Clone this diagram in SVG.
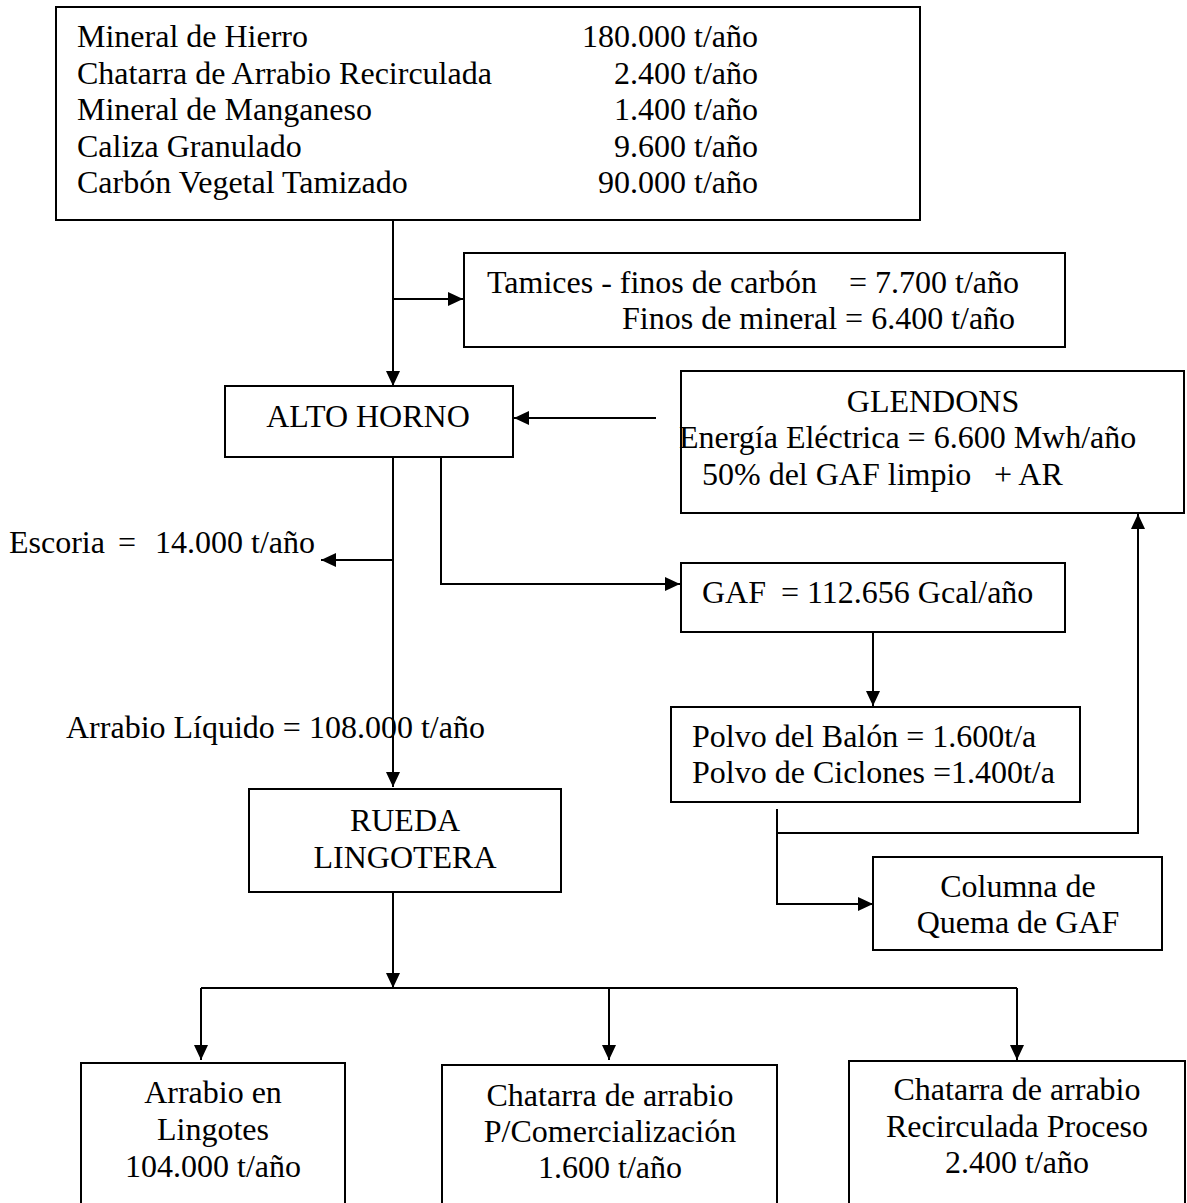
<svg xmlns="http://www.w3.org/2000/svg" width="1187" height="1203" viewBox="0 0 1187 1203">
<style>
  .box { fill: #fff; stroke: #000; stroke-width: 2; }
  .t { font-family: "Liberation Serif", "Times New Roman", serif; font-size: 32px; fill: #000; }
  .c { text-anchor: middle; }
  .e { text-anchor: end; }
  .ln { fill: none; stroke: #000; stroke-width: 2; }
</style>
<defs>
  <marker id="ah" markerUnits="userSpaceOnUse" markerWidth="16" markerHeight="14" refX="15" refY="7" orient="auto">
    <path d="M0,0 L15,7 L0,14 z" fill="#000"/>
  </marker>
</defs>
<rect width="1187" height="1203" fill="#fff"/>

<g id="connectors">
  <path class="ln" d="M393,220 V386" marker-end="url(#ah)"/>
  <path class="ln" d="M393,299 H463" marker-end="url(#ah)"/>
  <path class="ln" d="M656,418 H514" marker-end="url(#ah)"/>
  <path class="ln" d="M441,452 V584 H680" marker-end="url(#ah)"/>
  <path class="ln" d="M393,457 V787" marker-end="url(#ah)"/>
  <path class="ln" d="M393,560 H321" marker-end="url(#ah)"/>
  <path class="ln" d="M393,892 V988" marker-end="url(#ah)"/>
  <path class="ln" d="M201,988 H1017"/>
  <path class="ln" d="M201,988 V1060" marker-end="url(#ah)"/>
  <path class="ln" d="M609,988 V1060" marker-end="url(#ah)"/>
  <path class="ln" d="M1017,988 V1060" marker-end="url(#ah)"/>
  <path class="ln" d="M873,632 V706" marker-end="url(#ah)"/>
  <path class="ln" d="M777,809 V904 H873" marker-end="url(#ah)"/>
  <path class="ln" d="M777,833 H1138 V514" marker-end="url(#ah)"/>
</g>

<g id="inputs">
  <rect class="box" x="56" y="7" width="864" height="213"/>
  <text class="t" x="77" y="47">Mineral de Hierro</text>
  <text class="t" x="77" y="83.5">Chatarra de Arrabio Recirculada</text>
  <text class="t" x="77" y="120">Mineral de Manganeso</text>
  <text class="t" x="77" y="156.5">Caliza Granulado</text>
  <text class="t" x="77" y="193">Carbón Vegetal Tamizado</text>
  <text class="t e" x="758" y="47">180.000 t/año</text>
  <text class="t e" x="758" y="83.5">2.400 t/año</text>
  <text class="t e" x="758" y="120">1.400 t/año</text>
  <text class="t e" x="758" y="156.5">9.600 t/año</text>
  <text class="t e" x="758" y="193">90.000 t/año</text>
</g>

<g id="tamices">
  <rect class="box" x="464" y="253" width="601" height="94"/>
  <text class="t" y="293"><tspan x="487">Tamices - finos de carbón</tspan><tspan x="849">= 7.700 t/año</tspan></text>
  <text class="t" x="622" y="329">Finos de mineral = 6.400 t/año</text>
</g>

<g id="alto-horno">
  <rect class="box" x="225" y="386" width="288" height="71"/>
  <text class="t c" x="368" y="427">ALTO HORNO</text>
</g>

<g id="glendons">
  <rect class="box" x="681" y="371" width="503" height="142"/>
  <text class="t c" x="933" y="412">GLENDONS</text>
  <text class="t" x="679" y="448">Energía Eléctrica = 6.600 Mwh/año</text>
  <text class="t" x="702" y="485">50% del GAF limpio<tspan x="994">+ AR</tspan></text>
</g>

<g id="escoria">
  <text class="t" x="9" y="553">Escoria<tspan x="118">=</tspan><tspan x="155">14.000 t/año</tspan></text>
</g>

<g id="arrabio-liquido">
  <text class="t" x="66" y="738">Arrabio Líquido = 108.000 t/año</text>
</g>

<g id="gaf">
  <rect class="box" x="681" y="563" width="384" height="69"/>
  <text class="t" x="702" y="603">GAF<tspan x="781">= 112.656 Gcal/año</tspan></text>
</g>

<g id="polvo">
  <rect class="box" x="671" y="707" width="409" height="95"/>
  <text class="t" x="692" y="747">Polvo del Balón = 1.600t/a</text>
  <text class="t" x="692" y="783">Polvo de Ciclones =1.400t/a</text>
</g>

<g id="columna">
  <rect class="box" x="873" y="857" width="289" height="93"/>
  <text class="t c" x="1018" y="897">Columna de</text>
  <text class="t c" x="1018" y="933">Quema de GAF</text>
</g>

<g id="rueda">
  <rect class="box" x="249" y="789" width="312" height="103"/>
  <text class="t c" x="405" y="831">RUEDA</text>
  <text class="t c" x="405" y="868">LINGOTERA</text>
</g>

<g id="lingotes">
  <rect class="box" x="81" y="1063" width="264" height="160"/>
  <text class="t c" x="213" y="1103">Arrabio en</text>
  <text class="t c" x="213" y="1140">Lingotes</text>
  <text class="t c" x="213" y="1177">104.000 t/año</text>
</g>

<g id="comercializacion">
  <rect class="box" x="442" y="1065" width="335" height="160"/>
  <text class="t c" x="610" y="1106">Chatarra de arrabio</text>
  <text class="t c" x="610" y="1142">P/Comercialización</text>
  <text class="t c" x="610" y="1178">1.600 t/año</text>
</g>

<g id="recirculada">
  <rect class="box" x="849" y="1061" width="336" height="160"/>
  <text class="t c" x="1017" y="1100">Chatarra de arrabio</text>
  <text class="t c" x="1017" y="1137">Recirculada Proceso</text>
  <text class="t c" x="1017" y="1173">2.400 t/año</text>
</g>
</svg>
